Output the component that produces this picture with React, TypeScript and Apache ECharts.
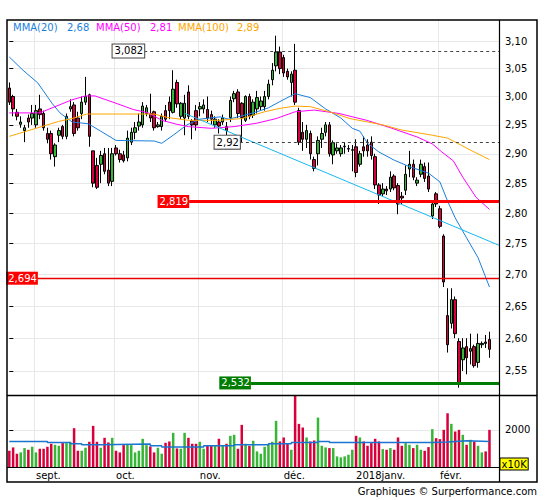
import { useEffect, useRef } from 'react';
import * as echarts from 'echarts';

// ---------------- data ----------------
const slotCount = 129; // trading-day slots on the time axis (last 2 empty)
const monthStarts = [7, 28, 50, 72, 91, 113];
const monthLabels = ['sept.', 'oct.', 'nov.', 'déc.', '2018janv.', 'févr.'];

const opens = [
  3.015, 3.000, 2.972, 2.951, 2.940, 2.962, 2.962, 2.950, 2.978, 2.970,
  2.935, 2.935, 2.895, 2.932, 2.947, 2.930, 2.978, 2.985, 2.962, 2.970,
  2.990, 3.003, 2.905, 2.880, 2.882, 2.900, 2.872, 2.853, 2.910, 2.900,
  2.898, 2.893, 2.920, 2.937, 2.948, 2.950, 2.970, 2.970, 2.973, 2.947,
  2.947, 2.975, 2.990, 2.972, 3.025, 2.965, 2.962, 3.008, 2.957, 2.975,
  2.978, 2.978, 2.977, 2.968, 2.950, 2.955, 2.955, 2.947, 2.963, 2.996,
  3.008, 2.988, 2.958, 3.000, 2.967, 2.978, 2.982, 2.982, 3.000, 3.030,
  3.055, 3.080, 3.070, 3.045, 3.025, 3.047, 2.975, 2.937, 2.925, 2.935,
  2.890, 2.900, 2.925, 2.937, 2.950, 2.898, 2.905, 2.900, 2.912, 2.908,
  2.906, 2.912, 2.882, 2.912, 2.915, 2.920, 2.895, 2.847, 2.832, 2.840,
  2.840, 2.862, 2.846, 2.828, 2.838, 2.874, 2.882, 2.850, 2.865, 2.878,
  2.862, 2.795, 2.832, 2.807, 2.762, 2.635, 2.623, 2.660, 2.595, 2.567,
  2.587, 2.580, 2.587, 2.563, 2.590, 2.594, 2.598,
];
const closes = [
  2.990, 2.978, 2.965, 2.955, 2.945, 2.955, 2.970, 2.975, 2.968, 2.945,
  2.925, 2.900, 2.915, 2.940, 2.930, 2.965, 2.982, 2.935, 2.945, 2.990,
  3.000, 2.930, 2.850, 2.843, 2.897, 2.870, 2.850, 2.900, 2.900, 2.890,
  2.888, 2.927, 2.937, 2.945, 2.955, 2.983, 2.980, 2.962, 2.945, 2.950,
  2.965, 2.960, 2.975, 3.013, 2.987, 2.988, 2.988, 2.965, 2.950, 2.950,
  2.982, 2.985, 2.962, 2.960, 2.960, 2.948, 2.962, 2.940, 2.993, 3.005,
  2.970, 2.963, 3.000, 2.965, 2.990, 2.998, 2.992, 3.000, 3.022, 3.047,
  3.080, 3.050, 3.042, 3.035, 3.040, 2.990, 2.920, 2.925, 2.940, 2.900,
  2.875, 2.923, 2.935, 2.950, 2.900, 2.919, 2.910, 2.910, 2.913, 2.909,
  2.907, 2.868, 2.900, 2.905, 2.905, 2.897, 2.847, 2.830, 2.840, 2.837,
  2.860, 2.842, 2.815, 2.825, 2.865, 2.882, 2.860, 2.855, 2.882, 2.858,
  2.840, 2.815, 2.815, 2.778, 2.688, 2.590, 2.660, 2.607, 2.532, 2.585,
  2.570, 2.584, 2.558, 2.592, 2.592, 2.592, 2.583,
];
const lows = [
  2.985, 2.965, 2.958, 2.945, 2.920, 2.945, 2.950, 2.945, 2.960, 2.940,
  2.918, 2.890, 2.878, 2.920, 2.925, 2.925, 2.973, 2.930, 2.940, 2.960,
  2.985, 2.912, 2.843, 2.840, 2.850, 2.865, 2.845, 2.845, 2.897, 2.885,
  2.885, 2.887, 2.915, 2.925, 2.940, 2.945, 2.965, 2.955, 2.940, 2.945,
  2.940, 2.955, 2.960, 2.970, 2.980, 2.960, 2.932, 2.960, 2.925, 2.940,
  2.965, 2.970, 2.955, 2.950, 2.945, 2.935, 2.950, 2.930, 2.955, 2.990,
  2.962, 2.920, 2.955, 2.960, 2.962, 2.970, 2.975, 2.975, 2.995, 3.020,
  3.045, 3.040, 3.035, 3.030, 3.000, 2.985, 2.915, 2.905, 2.910, 2.890,
  2.870, 2.880, 2.910, 2.930, 2.895, 2.882, 2.900, 2.895, 2.900, 2.903,
  2.870, 2.860, 2.878, 2.895, 2.895, 2.890, 2.840, 2.815, 2.828, 2.830,
  2.835, 2.838, 2.798, 2.815, 2.830, 2.860, 2.855, 2.845, 2.860, 2.852,
  2.835, 2.790, 2.810, 2.775, 2.680, 2.578, 2.615, 2.600, 2.525, 2.550,
  2.545, 2.560, 2.555, 2.555, 2.585, 2.585, 2.570,
];
const highs = [
  3.025, 3.003, 2.978, 2.965, 2.950, 2.968, 2.985, 2.985, 3.003, 2.975,
  2.945, 2.940, 2.918, 2.945, 2.950, 2.970, 2.995, 2.990, 2.973, 3.000,
  3.035, 3.005, 2.905, 2.893, 2.905, 2.910, 2.910, 2.910, 2.915, 2.907,
  2.905, 2.940, 2.945, 2.955, 2.970, 2.990, 2.985, 3.005, 2.975, 2.955,
  2.970, 2.985, 3.000, 3.047, 3.030, 2.990, 3.003, 3.020, 2.960, 2.985,
  2.990, 2.995, 3.000, 2.975, 2.965, 2.960, 2.968, 2.955, 3.000, 3.010,
  3.013, 2.990, 3.002, 3.005, 2.995, 3.010, 3.000, 3.010, 3.030, 3.060,
  3.110, 3.090, 3.075, 3.050, 3.045, 3.095, 2.980, 2.955, 2.950, 2.940,
  2.895, 2.930, 2.945, 2.955, 2.955, 2.923, 2.918, 2.915, 2.920, 2.915,
  2.915, 2.925, 2.905, 2.930, 2.925, 2.930, 2.900, 2.850, 2.850, 2.845,
  2.870, 2.865, 2.850, 2.835, 2.880, 2.905, 2.890, 2.860, 2.890, 2.885,
  2.885, 2.820, 2.835, 2.812, 2.765, 2.678, 2.678, 2.665, 2.600, 2.600,
  2.600, 2.607, 2.590, 2.607, 2.595, 2.605, 2.610,
];
// volume, in units of 10K
const volumes = [
  1176, 1307, 1059, 1111, 1281, 1215, 1333, 1111, 1255, 1255,
  1333, 1451, 1411, 1372, 1477, 1477, 1529, 2065, 1176, 1176,
  1294, 1529, 2156, 1529, 1294, 1686, 1503, 1686, 1176, 1111,
  1398, 1398, 1398, 1111, 1176, 1647, 1398, 1346, 1111, 1294,
  1059, 1490, 1542, 1882, 1268, 1255, 1882, 1686, 1451, 1451,
  1529, 1255, 1372, 1372, 1372, 1647, 1372, 1451, 1764, 1804,
  1255, 2196, 1451, 1372, 1568, 1150, 1059, 1333, 1438, 1529,
  2353, 1542, 1699, 1477, 1215, 3346, 2235, 2091, 1699, 1542,
  1581, 2483, 1372, 1307, 1281, 1281, 954, 915, 954, 1019,
  1215, 1764, 1699, 1542, 1372, 1477, 1647, 1542, 1242, 1215,
  1281, 1215, 1699, 1372, 1477, 1411, 1281, 1411, 1215, 1176,
  1320, 2026, 1673, 1634, 2000, 2653, 2235, 1934, 2000, 1804,
  1411, 1608, 1542, 1372, 1111, 1150, 2000,
];
// moving averages as [slot index, price] vertices
const mma20 = [
  [0, 3.071], [3.6, 3.047], [7.5, 3.024], [11.2, 2.988], [13.3, 2.971], [16.5, 2.955],
  [20.7, 2.952], [24, 2.939], [28, 2.923], [38, 2.922], [40, 2.918], [43, 2.932],
  [46.6, 2.950], [50, 2.960], [55.3, 2.964], [57.5, 2.960], [60, 2.964], [65, 2.973],
  [68, 2.980], [71, 2.991], [75, 3.005], [79, 2.998], [83, 2.978], [87, 2.962],
  [90, 2.944], [92, 2.939], [94, 2.918], [97, 2.903], [101, 2.889], [105, 2.878],
  [110, 2.867], [113, 2.852], [115, 2.820], [117, 2.792], [120, 2.759], [123, 2.727],
  [126, 2.680],
];
const mma50 = [
  [0, 2.971], [8, 2.971], [12, 2.982], [16.4, 2.994], [20, 3.001], [22.5, 3.001],
  [28, 2.988], [32.5, 2.977], [36.5, 2.971], [40, 2.958], [44, 2.951], [47, 2.947],
  [53, 2.944], [59, 2.947], [65, 2.953], [70, 2.961], [75, 2.973], [80, 2.976],
  [86.5, 2.970], [93.8, 2.958], [100, 2.945], [107, 2.929], [111, 2.917], [113.5, 2.903],
  [116.5, 2.888], [119, 2.860], [122.5, 2.826], [126, 2.806],
];
const mma100 = [
  [0, 2.930], [4, 2.938], [8.5, 2.947], [12.9, 2.956], [16.4, 2.961], [20.3, 2.969],
  [30, 2.969], [38, 2.969], [41.5, 2.963], [47, 2.958], [55, 2.958], [61, 2.961],
  [67, 2.973], [71, 2.979], [75, 2.983], [79, 2.982], [84, 2.973], [89.4, 2.961],
  [98, 2.950], [103, 2.941], [111, 2.932], [115, 2.927], [118.5, 2.915], [122, 2.903],
  [126, 2.890],
];
const volumeAverage = [
  [0, 1542], [10, 1503], [16, 1451], [19, 1411], [24, 1438], [37, 1372], [40, 1320],
  [51, 1372], [59, 1411], [68, 1451], [74, 1503], [81, 1542], [84, 1503], [111, 1516],
  [115, 1542], [117, 1568], [120, 1542], [126, 1542],
];
const trendLine = [[46.1, 2.970], [128.5, 2.747]];

const levelValues = [3.082, 2.92, 2.819, 2.694, 2.532];
const levelStarts = [35.4, 60.5, 47.2, 7.5, 63.4];

const priceTicks = [2.55, 2.6, 2.65, 2.7, 2.75, 2.8, 2.85, 2.9, 2.95, 3.0, 3.05, 3.1];
const priceMin = 2.514;
const priceMax = 3.139;
const volumeTicks = [2000];
const volumeMin = 536;
const volumeMax = 3372;

const legendNames = ['MMA(20)', 'MMA(50)', 'MMA(100)'];
const legendValues = [2.68, 2.81, 2.89];

// ---------------- styles ----------------
const FONT = 'DejaVu Sans';
const GREEN = '#36b536';
const RED = '#d8003c';
const GRIDC = '#e8e8e8';
const MMA_COLORS = ['#1a7fdc', '#ff00ff', '#ffa500'];
const TREND_COLOR = '#16b8f2';

const levelStyles: any[] = [
  { line: { color: '#444', width: 1, type: [3, 3] }, box: { backgroundColor: '#fff', borderColor: '#444', borderWidth: 1, color: '#000' } },
  { line: { color: '#444', width: 1, type: [3, 3] }, box: { backgroundColor: '#fff', borderColor: '#444', borderWidth: 1, color: '#000' } },
  { line: { color: '#ff0000', width: 3, type: 'solid' }, box: { backgroundColor: '#ff0000', color: '#fff' } },
  { line: { color: '#e60000', width: 1.4, type: 'solid' }, box: { backgroundColor: '#ff0000', color: '#fff' } },
  { line: { color: '#007d00', width: 3, type: 'solid' }, box: { backgroundColor: '#007d00', color: '#fff' } },
];

const ln = Math.log;
const fmt = (v: number) => v.toFixed(2).replace('.', ',');
const isMonthStart = (idx: number) => monthStarts.indexOf(idx) >= 0;

function buildOption(): any {
  const cats = Array.from({ length: slotCount }, (_, i) => String(i));
  const candleData = opens.map((o, i) => [ln(o), ln(closes[i]), ln(lows[i]), ln(highs[i])]);
  const volData = volumes.map((v, i) => ({
    value: v,
    itemStyle: { color: closes[i] >= opens[i] ? GREEN : RED },
  }));
  const toLog = (pts: number[][]) => pts.map(([i, p]) => [i, ln(p)]);

  const levelLines = levelValues.map((v, k) => [
    {
      coord: [levelStarts[k], ln(v)],
      lineStyle: levelStyles[k].line,
      label: {
        show: true,
        position: 'start',
        distance: 0,
        formatter: String(v).replace('.', ','),
        fontSize: 10,
        fontFamily: FONT,
        lineHeight: 11,
        padding: [1, 1, 1, 2],
        ...levelStyles[k].box,
      },
    },
    { coord: [slotCount - 0.5, ln(v)] },
  ]);

  const legendX = [13, 67, 96, 150, 178, 237];
  const legendGraphics: any[] = [];
  legendNames.forEach((n, k) => {
    legendGraphics.push({
      type: 'text', x: legendX[k * 2], y: 27, silent: true, z: 100,
      style: { text: n, fill: MMA_COLORS[k], fontSize: 10, fontFamily: FONT, verticalAlign: 'middle' },
    });
    legendGraphics.push({
      type: 'text', x: legendX[k * 2 + 1], y: 27, silent: true, z: 100,
      style: { text: fmt(legendValues[k]), fill: MMA_COLORS[k], fontSize: 10, fontFamily: FONT, verticalAlign: 'middle' },
    });
  });

  return {
    animation: false,
    backgroundColor: '#fff',
    textStyle: { fontFamily: FONT },
    grid: [
      { left: 7.4, right: 46, top: 20, height: 375, outerBoundsMode: 'none', containLabel: false },
      { left: 7.4, right: 46, top: 395, height: 72, outerBoundsMode: 'none', containLabel: false },
    ],
    xAxis: [
      {
        type: 'category', gridIndex: 0, data: cats, boundaryGap: true,
        axisLine: { show: false }, axisTick: { show: false }, axisLabel: { show: false },
        splitLine: { show: true, interval: isMonthStart, lineStyle: { color: GRIDC, width: 1 } },
      },
      { type: 'value', gridIndex: 0, min: -0.5, max: slotCount - 0.5, show: false },
      {
        type: 'category', gridIndex: 1, data: cats, boundaryGap: true,
        axisLine: { show: false }, axisTick: { show: false },
        axisLabel: {
          show: true, interval: isMonthStart,
          formatter: (_v: string, i: number) => monthLabels[monthStarts.indexOf(i)] || '',
          align: 'left', margin: 3, fontSize: 10, color: '#000', fontFamily: FONT,
        },
        splitLine: { show: true, interval: isMonthStart, lineStyle: { color: GRIDC, width: 1 } },
      },
      { type: 'value', gridIndex: 1, min: -0.5, max: slotCount - 0.5, show: false },
    ],
    yAxis: [
      {
        type: 'value', gridIndex: 0, position: 'right',
        min: ln(priceMin), max: ln(priceMax),
        axisLine: { show: false },
        axisTick: { show: true, length: 4, customValues: priceTicks.map(ln), lineStyle: { color: '#000' } },
        axisLabel: {
          customValues: priceTicks.map(ln),
          formatter: (v: number) => fmt(Math.exp(v)),
          margin: 6, fontSize: 10, color: '#000', fontFamily: FONT,
        },
        splitLine: { show: true, lineStyle: { color: GRIDC, width: 1 } },
      },
      {
        type: 'value', gridIndex: 1, position: 'right',
        min: volumeMin, max: volumeMax,
        axisLine: { show: false },
        axisTick: { show: true, length: 4, customValues: volumeTicks, lineStyle: { color: '#000' } },
        axisLabel: {
          customValues: volumeTicks,
          formatter: (v: number) => String(Math.round(v)),
          margin: 6, fontSize: 10, color: '#000', fontFamily: FONT,
        },
        splitLine: { show: true, lineStyle: { color: GRIDC, width: 1 } },
      },
    ],
    series: [
      {
        type: 'candlestick', xAxisIndex: 0, yAxisIndex: 0, data: candleData,
        barWidth: 3,
        itemStyle: {
          color: GREEN, color0: RED, borderColor: '#000', borderColor0: '#000',
          borderColorDoji: '#000', borderWidth: 1,
        },
        z: 2,
      },
      ...[mma20, mma50, mma100].map((pts, k) => ({
        type: 'line', xAxisIndex: 1, yAxisIndex: 0, data: toLog(pts),
        symbol: 'none', showSymbol: false, silent: true,
        lineStyle: { color: MMA_COLORS[k], width: 1 }, z: 3,
      })),
      {
        type: 'line', xAxisIndex: 1, yAxisIndex: 0, data: toLog(trendLine),
        symbol: 'none', showSymbol: false, silent: true,
        lineStyle: { color: TREND_COLOR, width: 1 }, z: 3,
        markLine: {
          silent: true, symbol: ['none', 'none'], animation: false,
          data: levelLines,
        },
      },
      {
        type: 'bar', xAxisIndex: 2, yAxisIndex: 1, data: volData,
        barWidth: 2.5, clip: true, silent: true,
      },
      {
        type: 'line', xAxisIndex: 3, yAxisIndex: 1, data: volumeAverage,
        step: 'end', symbol: 'none', showSymbol: false, silent: true,
        lineStyle: { color: '#1a74d0', width: 1.5 }, z: 3,
      },
    ],
    graphic: [
      { type: 'rect', silent: true, z: 100, shape: { x: 7, y: 20, width: 530, height: 462 }, style: { fill: 'none', stroke: '#000', lineWidth: 1.5 } },
      { type: 'line', silent: true, z: 100, shape: { x1: 7, y1: 395.5, x2: 537, y2: 395.5 }, style: { stroke: '#000', lineWidth: 1.5 } },
      { type: 'line', silent: true, z: 100, shape: { x1: 499.5, y1: 20, x2: 499.5, y2: 482 }, style: { stroke: '#000', lineWidth: 1.2 } },
      { type: 'line', silent: true, z: 100, shape: { x1: 7, y1: 467.5, x2: 499.5, y2: 467.5 }, style: { stroke: '#000', lineWidth: 1.2 } },
      ...legendGraphics,
      {
        type: 'text', x: 500.5, y: 458.5, silent: true, z: 101,
        style: { text: 'x10K', fill: '#000', fontSize: 10, fontFamily: FONT, backgroundColor: '#ffff00', borderColor: '#000', borderWidth: 1, padding: [1, 1, 0, 1] },
      },
      {
        type: 'text', x: 537, y: 491, silent: true, z: 100,
        style: { text: 'Graphiques © Surperformance.com', fill: '#000', fontSize: 10, fontFamily: FONT, align: 'right', verticalAlign: 'middle' },
      },
    ],
  };
}

export default function App() {
  const ref = useRef<HTMLDivElement>(null);
  useEffect(() => {
    if (!ref.current) return;
    const chart = echarts.init(ref.current, null, { renderer: 'svg' });
    chart.setOption(buildOption());
    return () => chart.dispose();
  }, []);
  return (
    <div
      ref={ref}
      style={{ position: 'absolute', left: 0, top: 0, width: 545, height: 500, background: '#fff' }}
    />
  );
}
